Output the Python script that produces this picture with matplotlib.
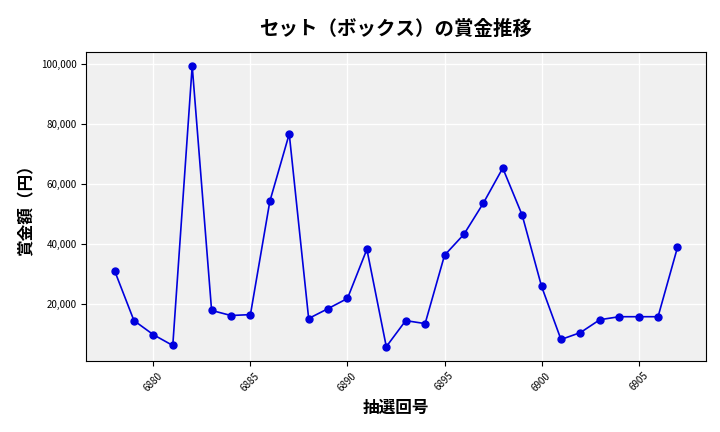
import matplotlib
matplotlib.use("Agg")
import matplotlib.pyplot as plt
from matplotlib.ticker import FuncFormatter, MultipleLocator

plt.rcParams['font.family'] = ['Noto Sans CJK JP', 'DejaVu Sans']

draws = list(range(6878, 6908))
prizes = [31000, 14300, 9600, 6000, 99300, 17700, 16000, 16300, 54100, 76600,
          15000, 18300, 21700, 38100, 5600, 14300, 13300, 36100, 43100, 53500,
          65200, 49500, 25700, 8000, 10300, 14600, 15600, 15600, 15600, 38700]

fig, ax = plt.subplots(figsize=(7.2, 4.32), dpi=100)
ax.set_facecolor('#f0f0f0')
ax.grid(True, color='white', linewidth=1)
ax.set_axisbelow(True)
ax.plot(draws, prizes, color='#0000dd', marker='o', markersize=5, linewidth=1.2)
ax.set_title('セット（ボックス）の賞金推移', fontsize=14, fontweight='bold', pad=12)
ax.set_xlabel('抽選回号', fontsize=12, fontweight='bold')
ax.set_ylabel('賞金額（円）', fontsize=12, fontweight='bold')
ax.xaxis.set_major_locator(MultipleLocator(5))
ax.yaxis.set_major_formatter(FuncFormatter(lambda v, p: f'{int(v):,}'))
ax.tick_params(axis='x', labelrotation=45, labelsize=7)
ax.tick_params(axis='y', labelsize=7)
fig.subplots_adjust(left=0.12, right=0.98, top=0.88, bottom=0.165)
fig.savefig('out.png')
